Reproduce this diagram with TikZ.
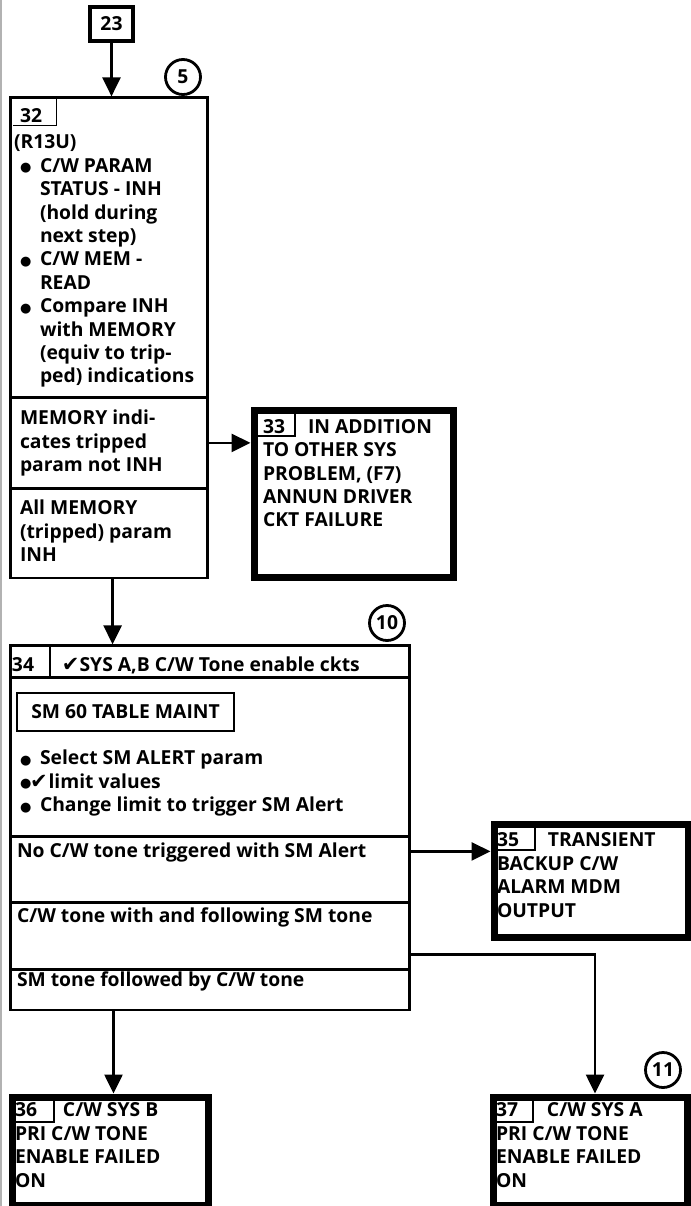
\documentclass[tikz,border=0pt]{standalone}
\usepackage{fontspec}
\setmainfont{Open Sans}
\newfontfamily\symf{DejaVu Sans}
\usetikzlibrary{arrows.meta,calc}
\newcommand\tf{\bfseries\fontsize{19.3}{23.4}\selectfont}
\newcommand\dotb{\raisebox{0.5pt}{\symf\fontsize{13}{13}\selectfont ●}}
\newcommand\bul{\hspace*{6pt}\makebox[20pt][l]{\dotb}}
\newcommand\ind{\hspace*{26pt}}
\newcommand\chk{{\symf\fontsize{21}{21}\selectfont ✔}}
\begin{document}
\begin{tikzpicture}[x=1pt,y=-1pt,
  bx/.style={draw, line width=2.8pt, outer sep=1.4pt, inner sep=0pt, anchor=north west},
  tbx/.style={draw, line width=7pt, outer sep=3.5pt, inner sep=0pt, anchor=north west},
  tagline/.style={line width=1.6pt},
  txt/.style={inner sep=0pt, outer sep=0pt, anchor=north west, align=left, font=\tf},
  ltx/.style={inner sep=0pt, outer sep=0pt, anchor=base west, font=\tf},
  arr/.style={line width=2.6pt, -{Triangle[length=19pt,width=18pt]}},
  num/.style={draw, circle, line width=2.8pt, minimum size=35pt, inner sep=0pt, font=\tf}]
\useasboundingbox (0,0) rectangle (690,1206);
\draw[gray!60, line width=1.5pt] (1,0) -- (1,1206);

% box 23
\node[draw, line width=4.5pt, outer sep=2.25pt, inner sep=0pt, minimum width=43pt, minimum height=34pt, font=\tf] (b23) at (111.5,24) {23};

% box 32
\node[bx, minimum width=196.6pt, minimum height=299.8pt] (b32a) at (9.4,96.4) {};
\node[bx, minimum width=196.6pt, minimum height=91pt] (b32b) at (9.4,396) {};
\node[bx, minimum width=196.6pt, minimum height=89.6pt] (b32c) at (9.4,487) {};
\node[num] (c5) at (183,77) {5};
\node[ltx] (t32n) at (20,123) {32};
\draw[tagline] (13,125.5) -- (56.5,125.5) -- (56.5,96);
\node[txt] (t32a) at (14,132.6) {\strut(R13U)\\
\bul C/W PARAM\\
\ind STATUS - INH\\
\ind (hold during\\
\ind next step)\\
\bul C/W MEM -\\
\ind READ\\
\bul Compare INH\\
\ind with MEMORY\\
\ind (equiv to trip-\\
\ind ped) indications};
\node[txt] (t32b) at (20,408.6) {\strut MEMORY indi-\\cates tripped\\param not INH};
\node[txt] (t32c) at (20,498.6) {\strut All MEMORY\\(tripped) param\\INH};

% box 33
\node[tbx, minimum width=199pt, minimum height=167pt] (b33) at (250.5,406.5) {};
\draw[tagline] (254,436) -- (295,436) -- (295,410);
\node[txt] (t33) at (263,417) {\strut\makebox[45pt][l]{33}IN ADDITION\\TO OTHER SYS\\PROBLEM, (F7)\\ANNUN DRIVER\\CKT FAILURE};

% box 34
\node[bx, minimum width=398.6pt, minimum height=31.6pt] (b34a) at (9.4,644.4) {};
\node[bx, minimum width=398.6pt, minimum height=159pt] (b34b) at (9.4,676) {};
\node[bx, minimum width=398.6pt, minimum height=66pt] (b34c) at (9.4,835) {};
\node[bx, minimum width=398.6pt, minimum height=67pt] (b34d) at (9.4,901) {};
\node[bx, minimum width=398.6pt, minimum height=40.6pt] (b34e) at (9.4,968) {};
\node[num] (c10) at (387,623) {10};
\draw[tagline] (50,644.4) -- (50,676);
\node[ltx] (t34) at (12,671) {\makebox[50pt][l]{34}\chk SYS A,B C/W Tone enable ckts};
\node[draw, line width=2.4pt, inner sep=0pt, minimum width=217pt, minimum height=38pt, font=\tf] (sm60) at (125.5,712) {SM 60 TABLE MAINT};
\node[txt] (t34b) at (14,748.6) {\strut\bul Select SM ALERT param\\
\hspace*{6pt}\makebox[10pt][l]{\dotb}\chk\hspace{1pt}limit values\\
\bul Change limit to trigger SM Alert};
\node[ltx] (t34c) at (17,857) {No C/W tone triggered with SM Alert};
\node[ltx] (t34d) at (17,922) {C/W tone with and following SM tone};
\node[ltx] (t34e) at (17,986) {SM tone followed by C/W tone};

% box 35
\node[tbx, minimum width=194pt, minimum height=113pt] (b35) at (490.5,820.5) {};
\draw[tagline] (494,850) -- (535,850) -- (535,824);
\node[txt] (t35) at (497,830.6) {\strut\makebox[51pt][l]{35}TRANSIENT\\BACKUP C/W\\ALARM MDM\\OUTPUT};

% box 36
\node[tbx, minimum width=196pt, minimum height=108pt] (b36) at (8.5,1093.5) {};
\draw[tagline] (12,1122) -- (54,1122) -- (54,1097);
\node[txt] (t36) at (15,1100.6) {\strut\makebox[48pt][l]{36}C/W SYS B\\PRI C/W TONE\\ENABLE FAILED\\ON};

% box 37
\node[tbx, minimum width=194pt, minimum height=108pt] (b37) at (489.5,1093.5) {};
\draw[tagline] (493,1122) -- (533,1122) -- (533,1097);
\node[num] (c11) at (663,1070) {11};
\node[txt] (t37) at (496,1100.6) {\strut\makebox[51pt][l]{37}C/W SYS A\\PRI C/W TONE\\ENABLE FAILED\\ON};

% connectors
\draw[arr] (b23.south) -- (b23.south |- b32a.north);
\draw[arr] (b32b.east) -- (b32b.east -| b33.west);
\draw[arr] ([xshift=3.5pt]b32c.south) -- ([xshift=3.5pt]b32c.south |- b34a.north);
\draw[arr] ([yshift=18pt]b34c.east) -- ([yshift=18pt]b34c.east -| b35.west);
\draw[arr] ([yshift=-18.5pt]b34d.east) -| ([xshift=5pt]b37.north);
\draw[arr] ([xshift=3.5pt]b36.north |- b34e.south) -- ([xshift=3.5pt]b36.north);
\end{tikzpicture}
\end{document}
